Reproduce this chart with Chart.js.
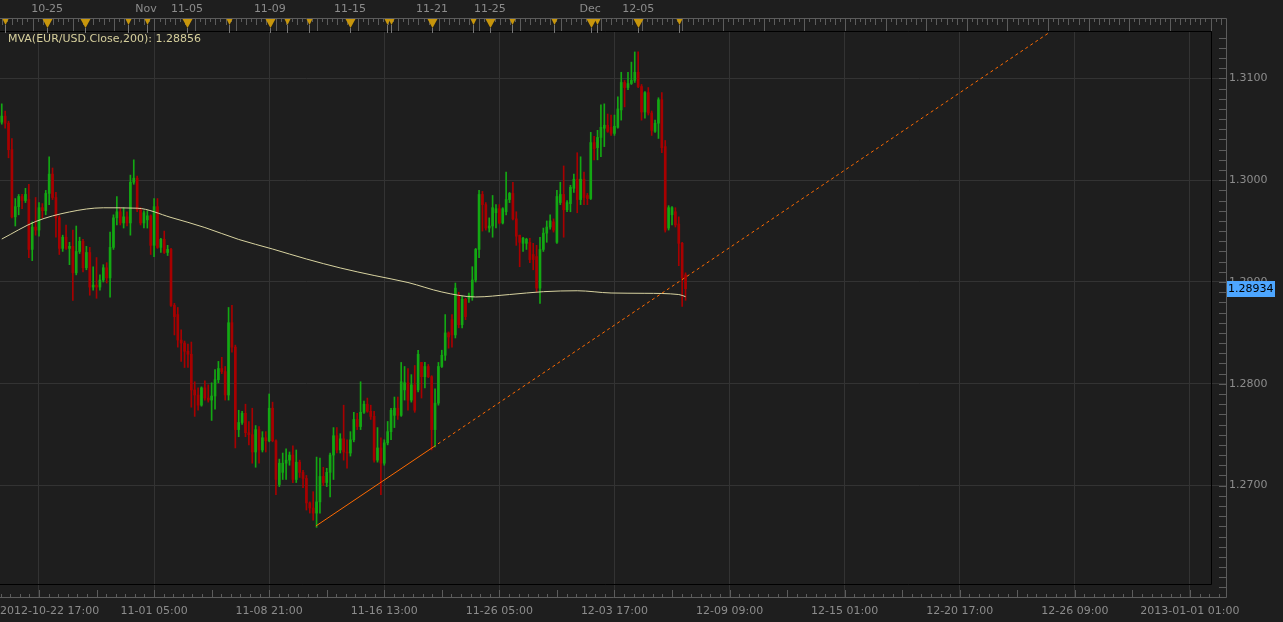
<!DOCTYPE html>
<html>
<head>
<meta charset="utf-8">
<title>EUR/USD 4H</title>
<script src="https://cdn.jsdelivr.net/npm/chart.js@4.4.1/dist/chart.umd.min.js"></script>
<style>
  html, body { margin: 0; padding: 0; background: #1e1e1e; overflow: hidden; }
  canvas { display: block; }
</style>
</head>
<body>
<canvas id="fxChart" width="1283" height="622"></canvas>
<script>
// 4h bars, index 0 = first visible bar
const opens = [
  1.3057,1.3063,1.3056,1.3030,1.2964,1.2974,1.2984,1.2980,1.2981,1.2932,
  1.2954,1.2951,1.2973,1.2970,1.2987,1.3006,1.2983,1.2963,1.2933,1.2944,
  1.2933,1.2935,1.2909,1.2930,1.2940,1.2914,1.2929,1.2895,1.2897,1.2895,
  1.2902,1.2914,1.2904,1.2934,1.2963,1.2969,1.2958,1.2964,1.2958,1.2998,
  1.3002,1.2971,1.2958,1.2961,1.2965,1.2936,1.2974,1.2934,1.2942,1.2929,
  1.2932,1.2877,1.2868,1.2843,1.2840,1.2832,1.2829,1.2794,1.2789,1.2779,
  1.2796,1.2786,1.2784,1.2788,1.2804,1.2815,1.2812,1.2789,1.2860,1.2836,
  1.2755,1.2762,1.2771,1.2752,1.2750,1.2733,1.2755,1.2735,1.2747,1.2744,
  1.2776,1.2744,1.2701,1.2713,1.2722,1.2725,1.2730,1.2706,1.2723,1.2713,
  1.2707,1.2683,1.2678,1.2673,1.2684,1.2709,1.2703,1.2713,1.2730,1.2749,
  1.2735,1.2746,1.2733,1.2732,1.2745,1.2765,1.2758,1.2772,1.2780,1.2773,
  1.2768,1.2725,1.2737,1.2722,1.2742,1.2753,1.2769,1.2776,1.2769,1.2794,
  1.2801,1.2784,1.2799,1.2794,1.2821,1.2807,1.2817,1.2807,1.2755,1.2781,
  1.2817,1.2828,1.2850,1.2863,1.2848,1.2887,1.2858,1.2883,1.2884,1.2885,
  1.2902,1.2932,1.2986,1.2976,1.2953,1.2955,1.2968,1.2972,1.2958,1.2969,
  1.2981,1.2987,1.2962,1.2946,1.2938,1.2938,1.2939,1.2927,1.2925,1.2894,
  1.2932,1.2948,1.2954,1.2959,1.2939,1.2978,1.2986,1.2971,1.2977,1.2992,
  1.3001,1.2981,1.3001,1.2985,1.2982,1.3037,1.3032,1.3042,1.3051,1.3054,
  1.3052,1.3046,1.3052,1.3069,1.3096,1.3091,1.3095,1.3098,1.3106,1.3092,
  1.3067,1.3086,1.3066,1.3048,1.3056,1.3079,1.3033,1.2953,1.2966,1.2969,
  1.2957,1.2938,1.2907
];
const highs = [
  1.3075,1.3068,1.3058,1.3041,1.2982,1.2986,1.2986,1.2992,1.2996,1.2959,
  1.2983,1.2978,1.2977,1.2990,1.3023,1.3012,1.2988,1.2965,1.2946,1.2956,
  1.2939,1.2951,1.2955,1.2944,1.2942,1.2935,1.2934,1.2915,1.2924,1.2907,
  1.2917,1.2919,1.2949,1.2966,1.2984,1.2973,1.2973,1.2969,1.3005,1.3020,
  1.3004,1.2973,1.2970,1.2970,1.2966,1.2982,1.2982,1.2943,1.2950,1.2936,
  1.2933,1.2879,1.2875,1.2853,1.2842,1.2839,1.2841,1.2802,1.2796,1.2797,
  1.2803,1.2799,1.2801,1.2814,1.2822,1.2826,1.2817,1.2875,1.2877,1.2838,
  1.2774,1.2773,1.2780,1.2763,1.2776,1.2759,1.2758,1.2753,1.2753,1.2790,
  1.2782,1.2745,1.2726,1.2732,1.2736,1.2733,1.2739,1.2735,1.2725,1.2715,
  1.2710,1.2684,1.2694,1.2728,1.2727,1.2718,1.2717,1.2732,1.2757,1.2757,
  1.2751,1.2779,1.2745,1.2753,1.2772,1.2771,1.2802,1.2783,1.2786,1.2779,
  1.2773,1.2757,1.2747,1.2745,1.2763,1.2776,1.2787,1.2787,1.2821,1.2817,
  1.2815,1.2809,1.2818,1.2833,1.2821,1.2821,1.2819,1.2808,1.2795,1.2821,
  1.2833,1.2868,1.2851,1.2868,1.2899,1.2890,1.2886,1.2884,1.2889,1.2915,
  1.2933,1.2990,1.2989,1.2978,1.2963,1.2985,1.2976,1.2976,1.2973,1.3008,
  1.2988,1.2998,1.2969,1.2946,1.2944,1.2943,1.2943,1.2938,1.2936,1.2944,
  1.2953,1.2960,1.2966,1.2962,1.2990,1.2998,1.3014,1.2980,1.2995,1.3006,
  1.3027,1.3023,1.3008,1.2987,1.3047,1.3043,1.3049,1.3074,1.3075,1.3065,
  1.3064,1.3064,1.3082,1.3106,1.3098,1.3106,1.3116,1.3126,1.3126,1.3094,
  1.3087,1.3091,1.3068,1.3059,1.3081,1.3086,1.3039,1.2975,1.2974,1.2973,
  1.2964,1.2939,1.2909
];
const lows = [
  1.3055,1.3051,1.3022,1.2963,1.2955,1.2966,1.2972,1.2978,1.2924,1.2921,
  1.2946,1.2945,1.2963,1.2966,1.2976,1.2981,1.2944,1.2927,1.2930,1.2932,
  1.2917,1.2882,1.2907,1.2928,1.2910,1.2912,1.2887,1.2892,1.2884,1.2892,
  1.2900,1.2899,1.2885,1.2932,1.2956,1.2956,1.2953,1.2955,1.2946,1.2996,
  1.2969,1.2956,1.2953,1.2953,1.2927,1.2925,1.2933,1.2929,1.2928,1.2926,
  1.2876,1.2848,1.2836,1.2822,1.2816,1.2816,1.2777,1.2768,1.2774,1.2778,
  1.2784,1.2782,1.2764,1.2775,1.2801,1.2810,1.2784,1.2784,1.2831,1.2737,
  1.2748,1.2760,1.2748,1.2740,1.2722,1.2718,1.2722,1.2733,1.2733,1.2743,
  1.2743,1.2691,1.2699,1.2706,1.2706,1.2720,1.2703,1.2703,1.2708,1.2698,
  1.2676,1.2673,1.2666,1.2659,1.2673,1.2700,1.2699,1.2689,1.2706,1.2732,
  1.2732,1.2725,1.2717,1.2729,1.2743,1.2755,1.2755,1.2771,1.2772,1.2765,
  1.2723,1.2723,1.2691,1.2720,1.2740,1.2745,1.2757,1.2765,1.2768,1.2784,
  1.2774,1.2782,1.2772,1.2792,1.2786,1.2796,1.2806,1.2735,1.2738,1.2779,
  1.2816,1.2823,1.2835,1.2836,1.2845,1.2855,1.2855,1.2863,1.2880,1.2882,
  1.2900,1.2924,1.2950,1.2951,1.2949,1.2944,1.2953,1.2957,1.2957,1.2966,
  1.2978,1.2961,1.2936,1.2915,1.2930,1.2932,1.2919,1.2912,1.2890,1.2879,
  1.2930,1.2939,1.2952,1.2949,1.2938,1.2976,1.2944,1.2969,1.2969,1.2988,
  1.2968,1.2976,1.2976,1.2976,1.2981,1.3020,1.3020,1.3023,1.3033,1.3047,
  1.3044,1.3044,1.3051,1.3059,1.3072,1.3089,1.3094,1.3096,1.3091,1.3059,
  1.3061,1.3064,1.3044,1.3047,1.3041,1.3027,1.2949,1.2951,1.2956,1.2954,
  1.2916,1.2876,1.2882
];
const closes = [
  1.3063,1.3056,1.3030,1.2964,1.2974,1.2984,1.2980,1.2986,1.2932,1.2954,
  1.2951,1.2973,1.2970,1.2987,1.3006,1.2983,1.2963,1.2933,1.2944,1.2933,
  1.2935,1.2909,1.2930,1.2940,1.2914,1.2929,1.2895,1.2897,1.2895,1.2902,
  1.2914,1.2904,1.2934,1.2963,1.2969,1.2958,1.2964,1.2958,1.2998,1.3002,
  1.2971,1.2958,1.2968,1.2965,1.2936,1.2974,1.2934,1.2942,1.2929,1.2932,
  1.2877,1.2866,1.2843,1.2840,1.2832,1.2829,1.2794,1.2789,1.2779,1.2796,
  1.2786,1.2784,1.2788,1.2804,1.2815,1.2812,1.2789,1.2860,1.2836,1.2755,
  1.2762,1.2771,1.2752,1.2750,1.2733,1.2755,1.2735,1.2747,1.2744,1.2776,
  1.2744,1.2706,1.2722,1.2722,1.2725,1.2730,1.2706,1.2723,1.2713,1.2707,
  1.2683,1.2678,1.2673,1.2684,1.2709,1.2703,1.2713,1.2730,1.2749,1.2735,
  1.2746,1.2733,1.2732,1.2745,1.2765,1.2758,1.2772,1.2780,1.2773,1.2768,
  1.2725,1.2737,1.2722,1.2742,1.2753,1.2774,1.2776,1.2769,1.2802,1.2801,
  1.2784,1.2799,1.2774,1.2829,1.2807,1.2817,1.2807,1.2755,1.2781,1.2817,
  1.2828,1.2850,1.2846,1.2848,1.2894,1.2858,1.2883,1.2866,1.2887,1.2902,
  1.2932,1.2986,1.2976,1.2953,1.2955,1.2973,1.2972,1.2958,1.2972,1.2981,
  1.2987,1.2962,1.2945,1.2939,1.2943,1.2942,1.2922,1.2922,1.2894,1.2932,
  1.2948,1.2954,1.2960,1.2951,1.2984,1.2986,1.2971,1.2978,1.2993,1.3001,
  1.2981,1.3001,1.2983,1.2982,1.3037,1.3031,1.3042,1.3052,1.3054,1.3048,
  1.3046,1.3053,1.3070,1.3096,1.3091,1.3095,1.3098,1.3106,1.3092,1.3067,
  1.3086,1.3066,1.3049,1.3056,1.3079,1.3032,1.2951,1.2973,1.2973,1.2956,
  1.2938,1.2904,1.28934
];

// MVA(close, 200) sampled every 10 bars
const mvaIdx = [0,10,20,30,40,50,60,70,80,90,100,110,120,130,140,150,160,170,180,190,200,202];
const mvaVal = [1.29422,1.29594,1.29688,1.29729,1.29725,1.29634,1.29535,1.29418,1.29324,1.29226,
                1.29138,1.29064,1.28995,1.28902,1.28853,1.28877,1.28905,1.28914,1.28892,1.28889,
                1.28877,1.28856];

// trend line: solid from the low, then dashed projection
const trendIdx = [92.8, 127.4, 309.7];
const trendVal = [1.26603, 1.27377, 1.31456];

// price axis
const priceTicks = [1.27, 1.28, 1.29, 1.30, 1.31];

// bottom time axis (one grid line every 34 bars)
const bottomTickIdx = [11, 45, 79, 113, 147, 181, 215, 249, 283, 317, 351];
const bottomLabels = ['2012-10-22 17:00', '11-01 05:00', '11-08 21:00', '11-16 13:00', '11-26 05:00',
                      '12-03 17:00', '12-09 09:00', '12-15 01:00', '12-20 17:00', '12-26 09:00', '2013-01-01 01:00'];

// top axis: news event markers and date labels
const eventIdx = [1.0, 13.4, 24.6, 37.3, 42.9, 54.7, 67.1, 79.2, 84.3, 90.8, 102.9,
                  113.8, 115.0, 127.1, 139.2, 144.2, 150.7, 163.1, 174.1, 175.8, 188.0, 200.1];
const eventBig = [0, 1, 1, 0, 0, 1, 0, 1, 0, 0, 1, 0, 0, 1, 0, 1, 0, 0, 1, 0, 1, 0];
const topLabelIdx = [13.4, 42.6, 54.7, 79.2, 102.9, 127.1, 144.2, 173.8, 188.0];
const topLabels = ['10-25', 'Nov', '11-05', '11-09', '11-15', '11-21', '11-25', 'Dec', '12-05'];

const GREEN = '#13a813';
const RED = '#a80000';
const GRID = '#333333';
const AXIS = '#5c5c5c';
const TEXT = '#8c8c8c';
const FONT = '11px "DejaVu Sans", sans-serif';

const candleColors = closes.map((c, i) => c >= opens[i] ? GREEN : RED);
const wickData = closes.map((c, i) => ({ x: i, y: [lows[i], highs[i]] }));
const bodyData = closes.map((c, i) => ({ x: i, y: [opens[i], c] }));

// everything that is not a data mark: background, frame, axis ticks, markers, labels
const chartDecor = {
  id: 'chartDecor',
  beforeDraw(chart) {
    const ctx = chart.ctx;
    ctx.save();
    ctx.fillStyle = '#1e1e1e';
    ctx.fillRect(0, 0, chart.width, chart.height);
    ctx.restore();
  },
  beforeDatasetsDraw(chart) {
    const ctx = chart.ctx, a = chart.chartArea;
    ctx.save();
    ctx.strokeStyle = '#000';
    ctx.lineWidth = 1;
    ctx.beginPath();
    ctx.moveTo(a.left, a.top + 0.5);
    ctx.lineTo(a.right - 14.5, a.top + 0.5);
    ctx.lineTo(a.right - 14.5, a.bottom - 12.5);
    ctx.lineTo(a.left, a.bottom - 12.5);
    ctx.stroke();
    ctx.restore();
  },
  afterDraw(chart) {
    const ctx = chart.ctx, a = chart.chartArea;
    const xs = chart.scales.x, ys = chart.scales.y;
    const snap = v => Math.round(v) + 0.5;
    ctx.save();
    ctx.lineWidth = 1;

    // axis lines: top rule, right side, bottom
    ctx.strokeStyle = AXIS;
    ctx.beginPath();
    ctx.moveTo(0, 18.5);
    ctx.lineTo(a.right + 0.5, 18.5);
    ctx.lineTo(a.right + 0.5, a.bottom + 0.5);
    ctx.lineTo(0, a.bottom + 0.5);
    ctx.stroke();

    // top axis ticks, every 6 hours
    ctx.beginPath();
    for (let k = 0; ; k++) {
      const idx = -2.9 + 1.5 * k;
      if (idx > xs.max) break;
      const px = snap(xs.getPixelForValue(idx));
      if (px > a.right) break;
      const len = k % 8 === 0 ? 12 : (k % 2 === 0 ? 6 : 3);
      ctx.moveTo(px, 19);
      ctx.lineTo(px, 19 + len);
    }
    ctx.stroke();

    // right axis minor ticks every 0.0010
    ctx.beginPath();
    for (let i = 1260; i <= 1314; i++) {
      const py = snap(ys.getPixelForValue(i / 1000));
      if (py < a.top || py > a.bottom) continue;
      ctx.moveTo(a.right - 7, py);
      ctx.lineTo(a.right, py);
    }
    ctx.stroke();

    // bottom axis ticks
    ctx.beginPath();
    for (let k = -4; ; k++) {
      const idx = 11 + k * 34 / 12;
      if (idx > xs.max) break;
      const px = xs.getPixelForValue(idx);
      if (px < 0) continue;
      const len = k % 6 === 0 ? 7 : 3;
      ctx.moveTo(snap(px), a.bottom);
      ctx.lineTo(snap(px), a.bottom - len);
    }
    ctx.stroke();

    // event markers on the top axis
    eventIdx.forEach((idx, i) => {
      const px = Math.round(xs.getPixelForValue(idx)) + 0.5;
      const hw = eventBig[i] ? 5 : 3;
      const h = eventBig[i] ? 9 : 6;
      ctx.strokeStyle = '#777';
      ctx.beginPath();
      ctx.moveTo(px, 19 + h);
      ctx.lineTo(px, a.top + 2);
      ctx.stroke();
      ctx.fillStyle = '#c8960c';
      ctx.beginPath();
      ctx.moveTo(px - hw, 19);
      ctx.lineTo(px + hw, 19);
      ctx.lineTo(px, 19 + h);
      ctx.closePath();
      ctx.fill();
    });

    // top labels
    ctx.font = FONT;
    ctx.fillStyle = TEXT;
    ctx.textAlign = 'center';
    ctx.textBaseline = 'middle';
    topLabelIdx.forEach((idx, i) => {
      ctx.fillText(topLabels[i], xs.getPixelForValue(idx), 9);
    });

    // bottom labels, first one kept inside the canvas
    bottomTickIdx.forEach((idx, i) => {
      const w = ctx.measureText(bottomLabels[i]).width;
      let cx = xs.getPixelForValue(idx);
      if (cx - w / 2 < 0) cx = w / 2;
      ctx.fillText(bottomLabels[i], cx, 611);
    });

    // indicator legend
    ctx.textAlign = 'left';
    ctx.fillStyle = '#d6cf9c';
    ctx.fillText('MVA(EUR/USD.Close,200): ' + mvaVal[mvaVal.length - 1].toFixed(5), 8, 39);

    // last price box
    const last = closes[closes.length - 1];
    const py = Math.round(ys.getPixelForValue(last));
    ctx.fillStyle = '#4da6ff';
    ctx.fillRect(a.right + 1, py - 8, 48, 16);
    ctx.fillStyle = '#000';
    ctx.fillText(last.toFixed(5), a.right + 2, py);

    ctx.restore();
  }
};

const ctx = document.getElementById('fxChart').getContext('2d');
const fxChart = new Chart(ctx, {
  data: {
    datasets: [
      {
        type: 'bar',
        label: 'wick',
        data: wickData,
        backgroundColor: candleColors,
        barThickness: 1,
        grouped: false,
        order: 3
      },
      {
        type: 'bar',
        label: 'body',
        data: bodyData,
        backgroundColor: candleColors,
        barThickness: 2,
        grouped: false,
        order: 2
      },
      {
        type: 'line',
        label: 'MVA 200',
        data: mvaIdx.map((x, i) => ({ x: x, y: mvaVal[i] })),
        borderColor: '#d8d3a0',
        borderWidth: 1,
        pointRadius: 0,
        cubicInterpolationMode: 'monotone',
        order: 1
      },
      {
        type: 'line',
        label: 'trend',
        data: [{ x: trendIdx[0], y: trendVal[0] }, { x: trendIdx[1], y: trendVal[1] }],
        borderColor: '#ff6a00',
        borderWidth: 1,
        pointRadius: 0,
        order: 0
      },
      {
        type: 'line',
        label: 'trend projection',
        data: [{ x: trendIdx[1], y: trendVal[1] }, { x: trendIdx[2], y: trendVal[2] }],
        borderColor: '#ff6a00',
        borderWidth: 1,
        borderDash: [3, 3],
        pointRadius: 0,
        order: 0
      }
    ]
  },
  options: {
    responsive: false,
    animation: false,
    devicePixelRatio: 1,
    layout: { padding: { top: 31, left: 0, right: 0, bottom: 0 } },
    plugins: {
      legend: { display: false },
      tooltip: { enabled: false }
    },
    scales: {
      x: {
        type: 'linear',
        offset: false,
        min: -0.52,
        max: 361.66,
        afterBuildTicks: s => { s.ticks = bottomTickIdx.map(v => ({ value: v })); },
        afterFit: s => { s.height = 25; },
        ticks: { display: false },
        grid: { color: GRID, drawTicks: false, offset: false },
        border: { display: false }
      },
      y: {
        position: 'right',
        min: 1.259057,
        max: 1.314656,
        afterBuildTicks: s => { s.ticks = priceTicks.map(v => ({ value: v })); },
        afterFit: s => { s.width = 57; },
        ticks: {
          color: TEXT,
          padding: 3,
          font: { family: '"DejaVu Sans", sans-serif', size: 11 },
          callback: v => Number(v).toFixed(4)
        },
        grid: { color: GRID, drawTicks: false },
        border: { display: false }
      }
    }
  },
  plugins: [chartDecor]
});
</script>
</body>
</html>
